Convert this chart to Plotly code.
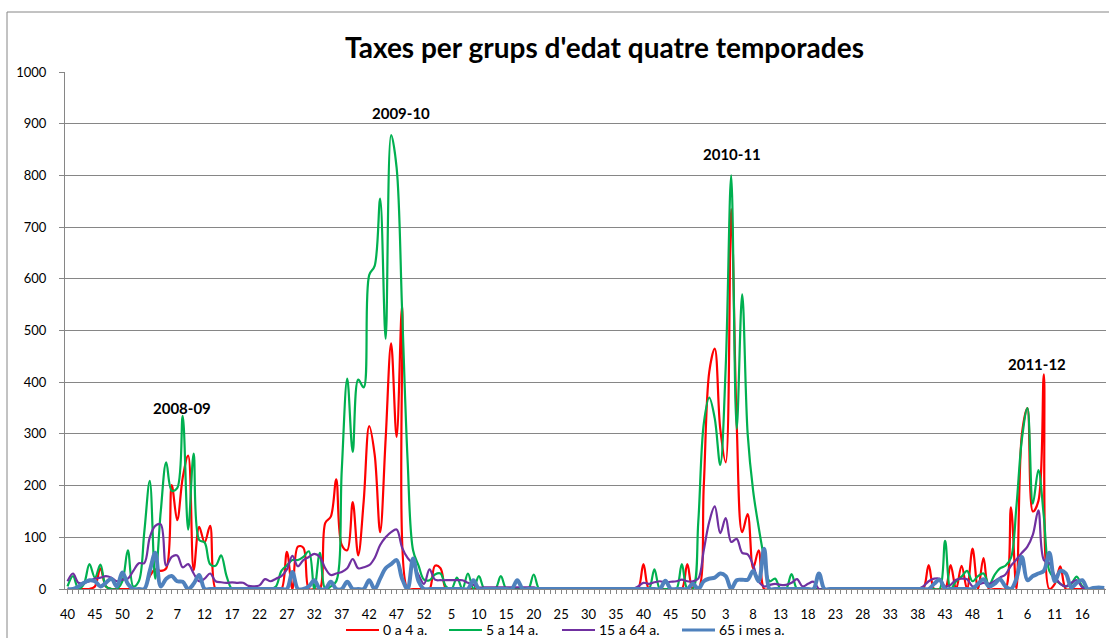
import plotly.graph_objects as go

# Week labels: 2008 w40-53, 2009-2011 w1-52, 2012 w1-20
weeks = list(range(40, 54)) + list(range(1, 53)) * 3 + list(range(1, 21))

red = [
    0, 0, 0, 0, 0, 5, 40, 5, 0, 0,
    0, 0, 0, 0, 0, 25, 38, 35, 40, 201,
    133, 215, 258, 37, 120, 90, 122, 0, 0, 0,
    0, 0, 0, 0, 0, 0, 0, 0, 0, 0,
    72, 0, 82, 80, 0, 0, 0, 128, 140, 212,
    85, 75, 168, 65, 170, 315, 260, 110, 290, 475,
    294, 548, 0, 0, 0, 0, 0, 45, 40, 0,
    0, 0, 0, 0, 0, 0, 0, 0, 0, 0,
    0, 0, 0, 0, 0, 0, 0, 0, 0, 0,
    0, 0, 0, 0, 0, 0, 0, 0, 0, 0,
    0, 0, 0, 0, 0, 48, 0, 0, 0, 0,
    0, 0, 0, 48, 0, 0, 200, 420, 465, 310,
    245, 735, 320, 110, 145, 40, 75, 0, 0, 0,
    0, 0, 0, 0, 0, 0, 0, 0, 0, 0,
    0, 0, 0, 0, 0, 0, 0, 0, 0, 0,
    0, 0, 0, 0, 0, 0, 0, 46, 0, 0,
    0, 46, 0, 45, 0, 78, 0, 60, 0, 0,
    0, 0, 158, 0, 300, 350, 150, 170, 415, 0,
    10, 44, 0, 0, 0, 0, 0, 0, 0, 0,
]

green = [
    5, 25, 0, 10, 48, 22, 47, 5, 0, 0,
    15, 75, 5, 15, 110, 209, 20, 150, 245, 190,
    195, 335, 115, 262, 95, 90, 48, 45, 65, 25,
    0, 0, 0, 0, 0, 0, 0, 0, 5, 35,
    46, 56, 56, 62, 73, 0, 70, 0, 5, 15,
    230, 407, 265, 405, 390, 607, 625, 755, 484, 878,
    815, 540, 250, 75, 45, 18, 17, 28, 30, 5,
    0, 22, 0, 30, 0, 25, 0, 0, 0, 25,
    0, 0, 0, 0, 0, 28, 0, 0, 0, 0,
    0, 0, 0, 0, 0, 0, 0, 0, 0, 0,
    0, 0, 0, 0, 0, 0, 0, 38, 0, 0,
    0, 0, 48, 0, 0, 130, 320, 370, 330, 240,
    430, 800, 310, 570, 300, 190, 120, 60, 15, 20,
    0, 0, 29, 0, 0, 0, 0, 0, 0, 0,
    0, 0, 0, 0, 0, 0, 0, 0, 0, 0,
    0, 0, 0, 0, 0, 0, 0, 0, 0, 0,
    93, 0, 15, 24, 35, 15, 25, 30, 8, 27,
    40, 45, 60, 160, 290, 350, 165, 230, 140, 35,
    20, 10, 5, 10, 24, 5, 0, 0, 0, 0,
]

purple = [
    15, 30, 12, 12, 15, 20, 22, 25, 22, 15,
    18, 20, 35, 50, 50, 100, 122, 125, 45, 62,
    65, 42, 48, 30, 15, 20, 30, 15, 13, 12,
    13, 12, 12, 6, 5, 7, 19, 15, 20, 25,
    38, 64, 44, 56, 62, 68, 62, 40, 27, 30,
    33, 40, 58, 40, 42, 46, 60, 85, 100, 110,
    115, 80, 60, 48, 27, 10, 38, 18, 17, 17,
    17, 17, 17, 12, 8, 3, 3, 3, 3, 3,
    3, 3, 3, 3, 3, 3, 0, 0, 0, 0,
    0, 0, 0, 0, 0, 0, 0, 0, 0, 0,
    0, 0, 0, 0, 5, 12, 10, 13, 15, 13,
    14, 15, 18, 15, 15, 20, 75, 130, 160, 108,
    137, 91, 97, 70, 67, 46, 15, 5, 8, 10,
    8, 8, 12, 19, 5, 10, 14, 0, 0, 0,
    0, 0, 0, 0, 0, 0, 0, 0, 0, 0,
    0, 0, 0, 0, 0, 0, 5, 15, 20, 20,
    5, 8, 18, 20, 19, 5, 8, 12, 10, 15,
    22, 28, 45, 57, 70, 82, 105, 152, 56, 50,
    25, 10, 5, 12, 17, 3, 0, 0, 0, 0,
]

blue = [
    0, 0, 5, 12, 17, 15, 5, 12, 20, 5,
    32, 10, 0, 0, 0, 35, 70, 5, 20, 25,
    15, 14, 0, 10, 27, 0, 0, 0, 0, 0,
    0, 0, 0, 0, 0, 0, 0, 0, 0, 0,
    0, 33, 0, 0, 5, 17, 0, 0, 14, 0,
    0, 14, 0, 0, 0, 17, 0, 20, 40, 48,
    56, 20, 0, 59, 15, 0, 0, 0, 0, 0,
    0, 0, 0, 0, 17, 0, 0, 0, 0, 0,
    0, 0, 17, 0, 0, 0, 0, 0, 0, 0,
    0, 0, 0, 0, 0, 0, 0, 0, 0, 0,
    0, 0, 0, 0, 0, 0, 0, 0, 0, 16,
    0, 0, 0, 0, 10, 0, 15, 20, 22, 30,
    25, 0, 17, 18, 18, 35, 15, 78, 0, 0,
    0, 0, 0, 0, 0, 0, 0, 30, 0, 0,
    0, 0, 0, 0, 0, 0, 0, 0, 0, 0,
    0, 0, 0, 0, 0, 0, 0, 0, 10, 18,
    0, 0, 0, 0, 0, 0, 10, 19, 5, 10,
    19, 5, 0, 20, 62, 17, 25, 30, 35, 70,
    15, 35, 30, 3, 12, 17, 0, 2, 3, 2,
]

series_names = ["0 a 4 a.", "5 a 14 a.", "15 a 64 a.", "65 i mes a."]
series_colors = ["#FF0000", "#00B050", "#7030A0", "#4F81BD"]
series_widths = [2.2, 2.2, 2.2, 4]
season_labels = ["2008-09", "2009-10", "2010-11", "2011-12"]
season_label_pos = [(20.9, 350), (60.8, 920), (121.2, 842), (176.8, 435)]

# layout geometry (pixels)
W, H = 1109, 638
ML, MR, MT, MB = 65, 3, 72, 49
PW, PH = W - ML - MR, H - MT - MB


def px_x(p):
    return (p - ML) / PW


def px_y(p):
    return (H - MB - p) / PH


idx = list(range(len(weeks)))

fig = go.Figure()
for name, vals, col, w in zip(series_names, [red, green, purple, blue], series_colors, series_widths):
    fig.add_trace(go.Scatter(
        x=idx, y=vals, mode="lines", name=name, showlegend=False,
        line=dict(color=col, width=w, shape="spline", smoothing=1),
    ))

for lab, (ax, ay) in zip(season_labels, season_label_pos):
    fig.add_annotation(x=ax, y=ay, xref="x", yref="y", text="<b>%s</b>" % lab,
                       showarrow=False, font=dict(family="Lato", size=15, color="black"))

# manual legend (line sample + label)
legend_x = [346, 449, 562, 682]
legend_y = 630
for name, col, w, lx in zip(series_names, series_colors, series_widths, legend_x):
    fig.add_shape(type="line", xref="paper", yref="paper",
                  x0=px_x(lx), x1=px_x(lx + 33), y0=px_y(legend_y), y1=px_y(legend_y),
                  line=dict(color=col, width=min(w, 3)))
    fig.add_annotation(x=px_x(lx + 35), y=px_y(legend_y), xref="paper", yref="paper",
                       xanchor="left", yanchor="middle", showarrow=False, text=name,
                       font=dict(family="Lato", size=14, color="black"))

grey = "#868686"
fig.update_layout(
    width=W, height=H, autosize=False,
    margin=dict(l=ML, r=MR, t=MT, b=MB),
    paper_bgcolor="white", plot_bgcolor="white",
    font=dict(family="Lato", size=13, color="black"),
    title=dict(text="<b>Taxes per grups d'edat quatre temporades</b>",
               x=604.5 / W, xanchor="center", y=1 - 48 / H, yanchor="middle",
               font=dict(family="Lato", size=28, color="black")),
    showlegend=False,
)
fig.update_xaxes(
    range=[-0.456, 189.33],
    tickmode="array",
    tickvals=idx[::5], ticktext=[str(w) for w in weeks[::5]],
    ticks="outside", ticklen=4, tickcolor=grey,
    minor=dict(tickmode="linear", tick0=0, dtick=1, ticks="outside", ticklen=4, tickcolor=grey),
    showline=True, linecolor=grey, linewidth=1,
    showgrid=False, zeroline=False,
    tickfont=dict(family="Lato", size=13),
    ticklabelstandoff=9,
)
fig.update_yaxes(
    range=[0, 1000], dtick=100,
    ticks="outside", ticklen=5, tickcolor=grey,
    showline=True, linecolor=grey, linewidth=1,
    showgrid=True, gridcolor=grey, gridwidth=1,
    zeroline=False,
    tickfont=dict(family="Lato", size=13),
    ticklabelstandoff=10,
)
# chart area border
fig.add_shape(type="rect", xref="paper", yref="paper",
              x0=px_x(7), x1=px_x(1115), y0=px_y(645), y1=px_y(12),
              line=dict(color=grey, width=1), layer="below")

fig.write_html("out.html", post_script="document.body.style.margin='0';",
               config={"displayModeBar": False})
